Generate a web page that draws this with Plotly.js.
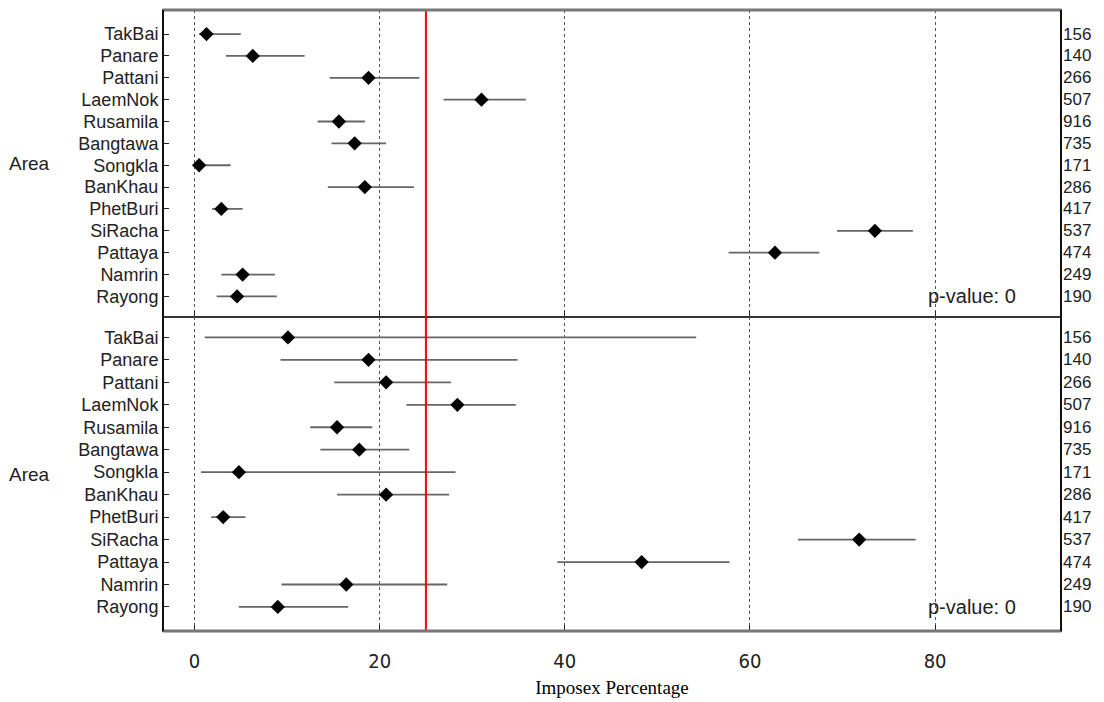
<!DOCTYPE html>
<html>
<head>
<meta charset="utf-8">
<script src="https://cdn.plot.ly/plotly-3.0.1.min.js"></script>
<style>html,body{margin:0;padding:0;background:#fff;}#chart{width:1104px;height:702px;}</style>
</head>
<body>
<div id="chart"></div>
<script>
// ---- data ----
const areas = ["TakBai","Panare","Pattani","LaemNok","Rusamila","Bangtawa","Songkla","BanKhau","PhetBuri","SiRacha","Pattaya","Namrin","Rayong"];
const sampleSizes = ["156","140","266","507","916","735","171","286","417","537","474","249","190"];

// top panel: estimate and confidence interval
const topEst  = [1.3, 6.3, 18.8, 31.0, 15.6, 17.3, 0.5, 18.4, 2.9, 73.5, 62.7, 5.2, 4.6];
const topLow  = [0.5, 3.4, 14.6, 26.9, 13.3, 14.8, 0.1, 14.4, 1.9, 69.4, 57.7, 2.9, 2.4];
const topHigh = [5.0, 11.9, 24.3, 35.8, 18.4, 20.7, 3.9, 23.7, 5.2, 77.6, 67.5, 8.7, 8.9];

// bottom panel
const botEst  = [10.1, 18.8, 20.7, 28.4, 15.4, 17.8, 4.8, 20.7, 3.1, 71.8, 48.3, 16.4, 9.0];
const botLow  = [1.1, 9.3, 15.1, 22.9, 12.5, 13.6, 0.7, 15.4, 1.8, 65.2, 39.2, 9.4, 4.8];
const botHigh = [54.2, 34.9, 27.7, 34.7, 19.2, 23.2, 28.2, 27.5, 5.5, 77.9, 57.8, 27.3, 16.6];

const xTicks = [0, 20, 40, 60, 80];
const refLine = 25;
const pValueText = ["p-value: 0", "p-value: 0"];
const xTitle = "Imposex Percentage";
const yTitle = "Area";

// ---- chart ----
const SANS = 'Liberation Sans, Arial, sans-serif';
function trace(est, lo, hi, xa, ya) {
  return {
    type: 'scatter', mode: 'markers',
    x: est, y: areas, xaxis: xa, yaxis: ya,
    marker: {symbol: 'diamond', size: 11, color: '#000'},
    error_x: {
      type: 'data', symmetric: false,
      array: hi.map((h, i) => h - est[i]),
      arrayminus: lo.map((l, i) => est[i] - l),
      color: '#666', thickness: 1.8, width: 0
    },
    hoverinfo: 'x+y', showlegend: false
  };
}

const xBase = {
  range: [-3.4, 93.6], tickvals: xTicks, ticks: 'inside', ticklen: 6, tickcolor: '#222',
  showgrid: true, griddash: 'dot', gridcolor: '#555', gridwidth: 1, zeroline: false,
  showline: true, mirror: true, linecolor: '#333', linewidth: 1
};
const yBase = {
  type: 'category', categoryarray: areas, tickmode: 'array', tickvals: areas, ticktext: areas,
  ticks: 'inside', ticklen: 6, tickcolor: '#222',
  showgrid: false, zeroline: false, showline: true, mirror: true, linecolor: '#333', linewidth: 1,
  tickfont: {family: SANS, size: 18, color: '#222'}, ticklabelstandoff: 0
};

const annotations = [];
[['y', 'x'], ['y2', 'x2']].forEach(([ya, xa], p) => {
  annotations.push({xref: 'paper', x: 0, xshift: -156, xanchor: 'left', yref: ya + ' domain', y: 0.5,
    text: yTitle, showarrow: false, font: {family: SANS, size: 19, color: '#222'}});
  annotations.push({xref: xa + ' domain', x: 0.952, xanchor: 'right', yref: ya, y: areas[areas.length - 1],
    text: pValueText[p], showarrow: false, font: {family: SANS, size: 20, color: '#222'}});
  sampleSizes.forEach((s, i) => {
    annotations.push({xref: 'paper', x: 1, xshift: 0, xanchor: 'left', yref: ya, y: areas[i],
      text: s, showarrow: false, font: {family: SANS, size: 17, color: '#222'}});
  });
});

const layout = {
  width: 1104, height: 702,
  margin: {l: 163, r: 43, t: 10, b: 71},
  paper_bgcolor: '#fff', plot_bgcolor: '#fff',
  xaxis: Object.assign({}, xBase, {anchor: 'y', showticklabels: false, matches: 'x2'}),
  yaxis: Object.assign({}, yBase, {domain: [0.505, 1], range: [12.96, -1.1], anchor: 'x'}),
  xaxis2: Object.assign({}, xBase, {anchor: 'y2', showticklabels: true,
    tickfont: {family: 'Liberation Sans Narrow, DejaVu Sans Condensed, Liberation Sans, sans-serif', size: 20, color: '#222'},
    ticklabelstandoff: 12,
    title: {text: xTitle, font: {family: 'Liberation Serif, Times New Roman, serif', size: 19, color: '#000'}, standoff: 8}}),
  yaxis2: Object.assign({}, yBase, {domain: [0, 0.505], range: [13.07, -0.89], anchor: 'x2'}),
  shapes: [
    {type: 'line', xref: 'x', x0: refLine, x1: refLine, yref: 'paper', y0: 0, y1: 1,
     line: {color: '#ff0000', width: 2}},
    {type: 'line', xref: 'paper', x0: 0, x1: 1, yref: 'paper', y0: 1, y1: 1, line: {color: '#777', width: 3}},
    {type: 'line', xref: 'paper', x0: 0, x1: 1, yref: 'paper', y0: 0, y1: 0, line: {color: '#777', width: 3}},
    {type: 'line', xref: 'paper', x0: 0, x1: 0, yref: 'paper', y0: 0, y1: 1, line: {color: '#111', width: 2}},
    {type: 'line', xref: 'paper', x0: 1, x1: 1, yref: 'paper', y0: 0, y1: 1, line: {color: '#111', width: 2}}
  ],
  annotations: annotations
};

Plotly.newPlot('chart', [trace(topEst, topLow, topHigh, 'x', 'y'), trace(botEst, botLow, botHigh, 'x2', 'y2')], layout,
  {displayModeBar: false, staticPlot: true});
</script>
</body>
</html>
